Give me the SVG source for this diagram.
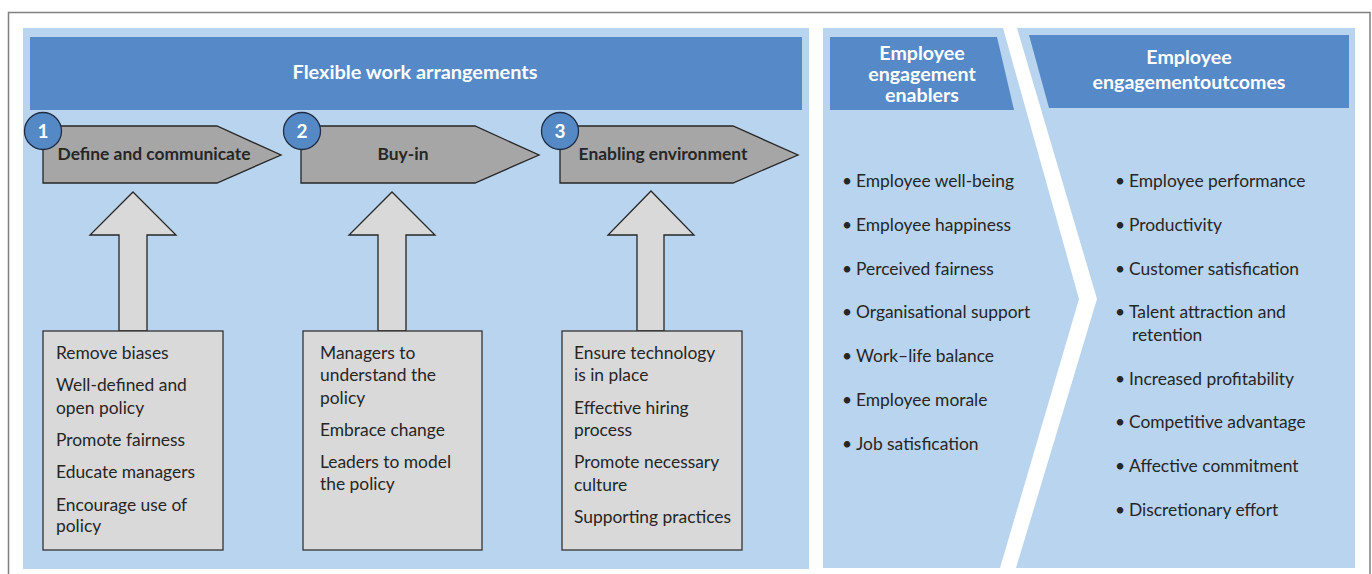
<svg xmlns="http://www.w3.org/2000/svg" width="1372" height="574" viewBox="0 0 1372 574">
<style>
.panel{fill:#b9d4ee}
.hdr{fill:#5689c7}
.hdrt{font-family:Lato,"Open Sans",sans-serif;font-weight:bold;fill:#fff;text-anchor:middle}
.chev{fill:#a6a6a6;stroke:#262626;stroke-width:1.3}
.chevt{font-family:Lato,"Open Sans",sans-serif;font-weight:bold;font-size:17.4px;fill:#262626;text-anchor:middle}
.num{fill:#5589c6;stroke:#1f2c44;stroke-width:1.3}
.numt{font-family:Lato,"Open Sans",sans-serif;font-weight:bold;font-size:19px;fill:#fff;text-anchor:middle}
.box{fill:#d9d9d9;stroke:#333;stroke-width:1.3}
.arr{fill:#d9d9d9;stroke:#262626;stroke-width:1.3}
.t{font-family:Lato,"Open Sans",sans-serif;font-size:17.4px;fill:#262626}
</style>
<rect x="8.5" y="12.5" width="1361.5" height="600" fill="#fff" stroke="#7f7f7f" stroke-width="1.5"/>
<g id="flexible-work">
<rect class="panel" x="23" y="28" width="786" height="541"/>
<rect class="hdr" x="30" y="37" width="772" height="73"/>
<text class="hdrt" x="415" y="79" font-size="19.9">Flexible work arrangements</text>
</g>
<g id="enablers">
<polygon class="panel" points="823,28 1003,28 1079,299 1000,568 823,568"/>
<polygon class="hdr" points="830,37 997,37 1014,110 830,110"/>
<text class="hdrt" font-size="19.6"><tspan x="922" y="60">Employee</tspan><tspan x="922" y="81">engagement</tspan><tspan x="922" y="102">enablers</tspan></text>
<text class="t"><tspan x="842" y="187">•</tspan><tspan x="856">Employee well-being</tspan></text>
<text class="t"><tspan x="842" y="231">•</tspan><tspan x="856">Employee happiness</tspan></text>
<text class="t"><tspan x="842" y="274.5">•</tspan><tspan x="856">Perceived fairness</tspan></text>
<text class="t"><tspan x="842" y="318">•</tspan><tspan x="856">Organisational support</tspan></text>
<text class="t"><tspan x="842" y="362">•</tspan><tspan x="856">Work–life balance</tspan></text>
<text class="t"><tspan x="842" y="405.5">•</tspan><tspan x="856">Employee morale</tspan></text>
<text class="t"><tspan x="842" y="449.5">•</tspan><tspan x="856">Job satisfication</tspan></text>
</g>
<g id="outcomes">
<polygon class="panel" points="1017,28 1355,28 1355,568 1016,568 1097,299"/>
<polygon class="hdr" points="1029,35 1349,35 1349,108 1049,108"/>
<text class="hdrt" font-size="19.6"><tspan x="1189" y="64">Employee</tspan><tspan x="1189" y="89">engagementoutcomes</tspan></text>
<text class="t"><tspan x="1115" y="187">•</tspan><tspan x="1129">Employee performance</tspan></text>
<text class="t"><tspan x="1115" y="231">•</tspan><tspan x="1129">Productivity</tspan></text>
<text class="t"><tspan x="1115" y="275">•</tspan><tspan x="1129">Customer satisfication</tspan></text>
<text class="t"><tspan x="1115" y="318">•</tspan><tspan x="1129">Talent attraction and</tspan><tspan x="1132" y="341">retention</tspan></text>
<text class="t"><tspan x="1115" y="385">•</tspan><tspan x="1129">Increased profitability</tspan></text>
<text class="t"><tspan x="1115" y="428">•</tspan><tspan x="1129">Competitive advantage</tspan></text>
<text class="t"><tspan x="1115" y="472">•</tspan><tspan x="1129">Affective commitment</tspan></text>
<text class="t"><tspan x="1115" y="516">•</tspan><tspan x="1129">Discretionary effort</tspan></text>
</g>
<g id="step1">
<polygon class="chev" points="43,126 217,126 281,155 217,183 43,183"/>
<text class="chevt" x="154" y="160">Define and communicate</text>
<circle class="num" cx="43" cy="131" r="18.5"/>
<text class="numt" x="43" y="138">1</text>
</g>
<g id="step2">
<polygon class="chev" points="301,126 475,126 539,155 475,183 301,183"/>
<text class="chevt" x="403" y="160">Buy-in</text>
<circle class="num" cx="302" cy="131" r="18.5"/>
<text class="numt" x="302" y="138">2</text>
</g>
<g id="step3">
<polygon class="chev" points="560,126 733,126 798,155 733,183 560,183"/>
<text class="chevt" x="663" y="160">Enabling environment</text>
<circle class="num" cx="560" cy="131" r="18.5"/>
<text class="numt" x="560" y="138">3</text>
</g>
<g id="connectors">
<polygon class="arr" points="133,192 176,235 147,235 147,331 119,331 119,235 90,235"/>
<polygon class="arr" points="392,192 435,235 406,235 406,331 378,331 378,235 349,235"/>
<polygon class="arr" points="651,191 694,235 664,235 664,331 637,331 637,235 608,235"/>
</g>
<g id="box1">
<rect class="box" x="43" y="331" width="180" height="219"/>
<text class="t"><tspan x="56" y="359">Remove biases</tspan><tspan x="56" y="391">Well-defined and</tspan><tspan x="56" y="413.5">open policy</tspan><tspan x="56" y="446">Promote fairness</tspan><tspan x="56" y="478">Educate managers</tspan><tspan x="56" y="510.5">Encourage use of</tspan><tspan x="56" y="532">policy</tspan></text>
</g>
<g id="box2">
<rect class="box" x="303" y="331" width="179" height="219"/>
<text class="t"><tspan x="320" y="359">Managers to</tspan><tspan x="320" y="381">understand the</tspan><tspan x="320" y="403.5">policy</tspan><tspan x="320" y="435.5">Embrace change</tspan><tspan x="320" y="467.5">Leaders to model</tspan><tspan x="320" y="490">the policy</tspan></text>
</g>
<g id="box3">
<rect class="box" x="562" y="331" width="180" height="219"/>
<text class="t"><tspan x="574" y="359">Ensure technology</tspan><tspan x="574" y="381">is in place</tspan><tspan x="574" y="413.5">Effective hiring</tspan><tspan x="574" y="436">process</tspan><tspan x="574" y="468">Promote necessary</tspan><tspan x="574" y="490.5">culture</tspan><tspan x="574" y="523">Supporting practices</tspan></text>
</g>
</svg>
